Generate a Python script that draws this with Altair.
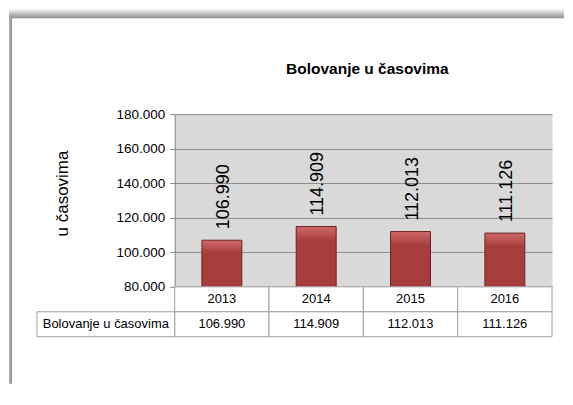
import altair as alt
import pandas as pd

# ---- data ----
years = ["2013", "2014", "2015", "2016"]
values = [106990, 114909, 112013, 111126]
series_name = "Bolovanje u časovima"
chart_title = "Bolovanje u časovima"
y_title = "u časovima"
y_ticks = [80000, 100000, 120000, 140000, 160000, 180000]
y_domain = [80000, 180000]


def fmt(v):
    return f"{v:,}".replace(",", ".")


df = pd.DataFrame({"year": years, "value": values, "label": [fmt(v) for v in values]})

table_rows = []
for y, v in zip(years, values):
    table_rows.append({"year": y, "row": "a", "text": y})
    table_rows.append({"year": y, "row": "b", "text": fmt(v)})
table_df = pd.DataFrame(table_rows)
header_df = pd.DataFrame({"row": ["b"], "text": [series_name]})
one = pd.DataFrame({"k": [0]})

FONT = "Liberation Sans, Arial, sans-serif"

W, H = 378, 173
TH = 50
xscale = alt.Scale(domain=years, paddingInner=0, paddingOuter=0)

bar_grad = alt.Gradient(
    gradient="linear",
    stops=[
        alt.GradientStop(color="#cf6a6a", offset=0),
        alt.GradientStop(color="#a83d3d", offset=0.07),
        alt.GradientStop(color="#a23939", offset=1),
    ],
    x1=0, x2=0, y1=0, y2=1,
)

y_enc = alt.Y(
    "value:Q",
    scale=alt.Scale(domain=y_domain, nice=False, zero=False),
    axis=alt.Axis(
        values=y_ticks,
        tickCount=len(y_ticks) + 4,
        labelExpr="replace(format(datum.value, ',d'), ',', '.')",
        labelOverlap=False,
        labelBound=False,
        labelFlush=False,
        title=y_title,
        titleFont=FONT,
        titleFontSize=17,
        titleFontWeight="normal",
        titleColor="#000000",
        titleAngle=270,
        titleX=-107,
        titleY=79,
        titleAlign="center",
        titleBaseline="alphabetic",
        labelFont=FONT,
        labelFontSize=13.5,
        labelColor="#000000",
        labelPadding=5,
        tickSize=5,
        tickColor="#868686",
        domainColor="#868686",
        gridColor="#8c8c8c",
        grid=True,
    ),
)
x_enc = alt.X("year:N", scale=xscale, axis=None)

base = alt.Chart(df)
bars = base.mark_bar(size=40, color=bar_grad, stroke="#6e2222", strokeWidth=1, clip=True).encode(
    x=x_enc, y=y_enc
)

labels = base.mark_text(
    angle=270, align="left", baseline="middle", dx=11, dy=2, font=FONT, fontSize=18, color="#000000"
).encode(x=x_enc, y=y_enc, text="label:N")

title_mark = alt.Chart(one).mark_text(
    text=chart_title, font=FONT, fontSize=15.5, fontWeight="bold", baseline="alphabetic", align="center", color="#000000"
).encode(x=alt.value(193), y=alt.value(-40))

top = alt.layer(bars, labels, title_mark).properties(
    width=W, height=H, view=alt.ViewBackground(fill="#d9d9d9", stroke="transparent")
)

# ---- data table ----
yscale_t = alt.Scale(domain=["a", "b"], paddingInner=0, paddingOuter=0)
cells = alt.Chart(table_df).mark_rect(fill="#ffffff", stroke="#a0a0a0", strokeWidth=1).encode(
    x=x_enc,
    y=alt.Y("row:N", scale=yscale_t, axis=None),
)
cell_text = alt.Chart(table_df).mark_text(font=FONT, fontSize=13, color="#000000", baseline="middle").encode(
    x=x_enc,
    y=alt.Y("row:N", scale=yscale_t, axis=None),
    text="text:N",
)
head_rect = alt.Chart(header_df).mark_rect(fill="#ffffff", stroke="#a0a0a0", strokeWidth=1).encode(
    x=alt.value(-138), x2=alt.value(0), y=alt.Y("row:N", scale=yscale_t, axis=None)
)
head_text = alt.Chart(header_df).mark_text(font=FONT, fontSize=13, color="#000000", baseline="middle").encode(
    x=alt.value(-69), y=alt.Y("row:N", scale=yscale_t, axis=None), text="text:N"
)

# ---- frame (shadowed border of the chart object) ----
top_grad = alt.Gradient(
    gradient="linear",
    stops=[alt.GradientStop(color="#f4f4f4", offset=0), alt.GradientStop(color="#8c8c8c", offset=1)],
    x1=0, x2=0, y1=0, y2=1,
)
left_grad = alt.Gradient(
    gradient="linear",
    stops=[alt.GradientStop(color="#b4b4b4", offset=0), alt.GradientStop(color="#8c8c8c", offset=1)],
    x1=0, x2=1, y1=0, y2=0,
)
frame_top = alt.Chart(one).mark_rect(color=top_grad).encode(
    x=alt.value(-166), x2=alt.value(390), y=alt.value(-278), y2=alt.value(-269)
)
frame_left = alt.Chart(one).mark_rect(color=left_grad).encode(
    x=alt.value(-166), x2=alt.value(-163), y=alt.value(-270), y2=alt.value(97)
)

bottom = alt.layer(cells, cell_text, head_rect, head_text, frame_top, frame_left).properties(
    width=W, height=TH, view=alt.ViewBackground(fill="transparent", stroke="transparent")
)

chart = alt.vconcat(top, bottom, spacing=0, bounds="flush").configure(
    padding=0, background="#ffffff"
).configure_view(stroke="transparent")

chart.save("out.html", embed_options={"renderer": "svg", "actions": False})
